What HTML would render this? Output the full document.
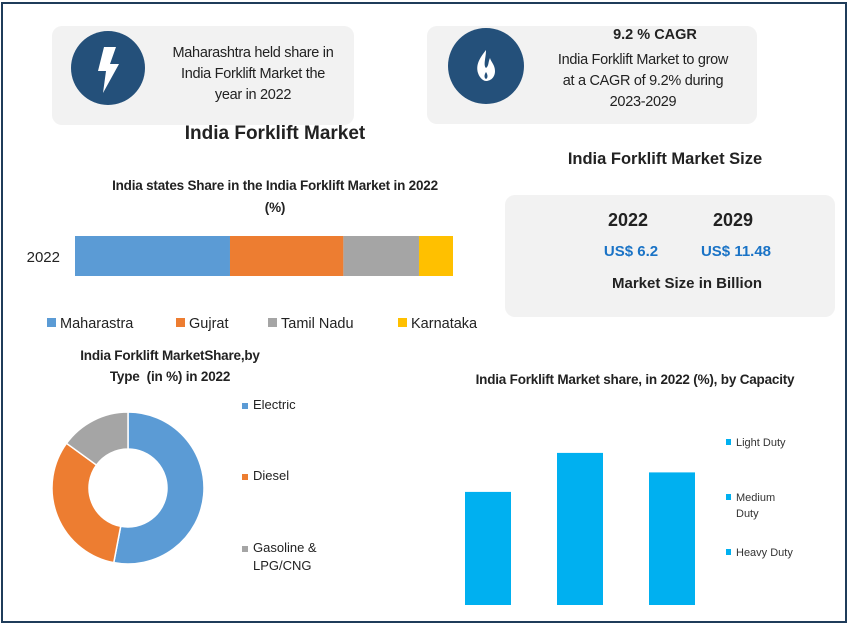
<!DOCTYPE html>
<html><head><meta charset="utf-8"><style>
body{margin:0;width:849px;height:627px;background:#fff;font-family:"Liberation Sans",sans-serif;position:relative;overflow:hidden}
.abs{position:absolute}
.card{background:#f2f2f2;border-radius:10px;position:absolute}
.t{position:absolute;text-align:center;color:#222}
</style></head><body>
<div class="abs" style="left:1px;top:2px;width:842px;height:617px;border:2px solid #1f3c5a"></div>

<div class="card" style="left:52px;top:26px;width:302px;height:99px"></div>
<svg class="abs" style="left:70px;top:30px" width="76" height="76"><circle cx="38" cy="38" r="37" fill="#24507a"/><path d="M34 17 L46 17 L40 34 L49 34 L33 63 L36 41 L28 41 Z" fill="#fff"/></svg>
<div class="t" style="left:153px;top:43px;width:200px;font-size:14.5px;line-height:21px;letter-spacing:-0.3px">Maharashtra held share in<br>India Forklift Market the<br>year in 2022</div>

<div class="card" style="left:427px;top:26px;width:330px;height:98px"></div>
<svg class="abs" style="left:448px;top:28px" width="77" height="77"><circle cx="38" cy="38" r="38" fill="#24507a"/><path d="M38 22 C30 32 28 38 30 45 C32 51 36 53 38 53 C42 53 47 50 47 43 C47 37 43 34 42 30 C40 34 41 38 38 40 C35 37 38 30 38 22 Z" fill="#fff"/><path d="M38 44 C36 47 36 50 38 51 C40 50 40 47 38 44Z" fill="#24507a"/></svg>
<div class="t" style="left:590px;top:27px;width:130px;font-size:14.5px;font-weight:bold">9.2 % CAGR</div>
<div class="t" style="left:533px;top:50px;width:220px;font-size:14.5px;line-height:21px;letter-spacing:-0.3px">India Forklift Market to grow<br>at a CAGR of 9.2% during<br>2023-2029</div>

<div class="t" style="left:120px;top:123px;width:310px;font-size:19px;font-weight:bold">India Forklift Market</div>
<div class="t" style="left:520px;top:150px;width:290px;font-size:16.5px;font-weight:bold">India Forklift Market Size</div>

<div class="card" style="left:505px;top:195px;width:330px;height:122px"></div>
<div class="t" style="left:588px;top:210px;width:80px;font-size:18px;font-weight:bold">2022</div>
<div class="t" style="left:693px;top:210px;width:80px;font-size:18px;font-weight:bold">2029</div>
<div class="t" style="left:585px;top:243px;width:92px;font-size:15px;font-weight:bold;color:#1a73c6">US$ 6.2</div>
<div class="t" style="left:690px;top:243px;width:92px;font-size:15px;font-weight:bold;color:#1a73c6">US$ 11.48</div>
<div class="t" style="left:572px;top:275px;width:230px;font-size:15px;font-weight:bold">Market Size in Billion</div>

<div class="t" style="left:60px;top:175px;width:430px;font-size:13.5px;font-weight:bold;line-height:22px;letter-spacing:-0.2px">India states Share in the India Forklift Market in 2022<br>(%)</div>
<svg class="abs" id="stack" style="left:0;top:225px" width="500" height="110"></svg>

<div class="t" style="left:50px;top:345px;width:240px;font-size:13.5px;font-weight:bold;line-height:21px;letter-spacing:-0.2px">India Forklift MarketShare,by<br>Type&nbsp; (in %) in 2022</div>
<svg class="abs" id="donut" style="left:0;top:400px" width="400" height="190"></svg>

<div class="t" style="left:440px;top:372px;width:390px;font-size:13.5px;font-weight:bold;letter-spacing:-0.2px">India Forklift Market share, in 2022 (%), by Capacity</div>
<svg class="abs" id="bars" style="left:440px;top:420px" width="400" height="195"></svg>

<script>
const ns="http://www.w3.org/2000/svg";
function mk(p,tag,a){const e=document.createElementNS(ns,tag);for(const k in a)e.setAttribute(k,a[k]);p.appendChild(e);return e;}

const states=["Maharastra","Gujrat","Tamil Nadu","Karnataka"];
const stateShares=[41,30,20,9];
const stateColors=["#5b9bd5","#ed7d31","#a5a5a5","#ffc000"];
const types=["Electric","Diesel","Gasoline &\nLPG/CNG"];
const typeShares=[53,32,15];
const typeColors=["#5b9bd5","#ed7d31","#a5a5a5"];
const capacities=["Light Duty","Medium Duty","Heavy Duty"];
const capacityShares=[29,39,34];

(function(){
const s=document.getElementById('stack');
const x0=75,w=378,total=stateShares.reduce((a,b)=>a+b,0);
const t=mk(s,'text',{x:60,y:37,'font-size':15,'text-anchor':'end',fill:'#222'});t.textContent='2022';


let acc=0;
stateShares.forEach((v,i)=>{
 const r=mk(s,'rect',{x:x0+acc/total*w,y:11,width:v/total*w,height:40,fill:stateColors[i]});
 
 
 acc+=v;
});
const lx=[47,176,268,398];
states.forEach((n,i)=>{
 const g=mk(s,'g',{});
 
 
 mk(g,'rect',{x:lx[i],y:93,width:9,height:9,fill:stateColors[i]});
 const tt=mk(g,'text',{x:lx[i]+13,y:103,'font-size':14.5,fill:'#222'});tt.textContent=n;
});
})();

(function(){
const s=document.getElementById('donut');
const cx=128,cy=88,R=76,r=39,total=typeShares.reduce((a,b)=>a+b,0);
let a0=0;
typeShares.forEach((v,i)=>{
 const a1=a0+v/total*2*Math.PI;
 const p=(a,rad)=>[cx+rad*Math.sin(a),cy-rad*Math.cos(a)];
 const [x1,y1]=p(a0,R),[x2,y2]=p(a1,R),[x3,y3]=p(a1,r),[x4,y4]=p(a0,r);
 const lg=(a1-a0)>Math.PI?1:0;
 const path=mk(s,'path',{d:`M${x1} ${y1} A${R} ${R} 0 ${lg} 1 ${x2} ${y2} L${x3} ${y3} A${r} ${r} 0 ${lg} 0 ${x4} ${y4}Z`,fill:typeColors[i],stroke:'#fff','stroke-width':1.5});
 
 
 a0=a1;
});
const ly=[8,79,151];
types.forEach((n,i)=>{
 const g=mk(s,'g',{});
 
 
 mk(g,'rect',{x:242,y:ly[i]-5,width:6,height:6,fill:typeColors[i]});
 n.split('\n').forEach((ln,j)=>{const t=mk(g,'text',{x:253,y:ly[i]+j*18+1,'font-size':13,fill:'#222'});t.textContent=ln;});
});
})();

(function(){
const s=document.getElementById('bars');
const base=185,k=3.9,bx=[25,117,209],bw=46;
capacityShares.forEach((v,i)=>{
 const b=mk(s,'rect',{x:bx[i],y:base-v*k,width:bw,height:v*k,fill:'#00b0f0'});
 
 
});
const items=[["Light Duty"],["Medium","Duty"],["Heavy Duty"]];
const ly=[25,80,135];
items.forEach((ls,i)=>{
 const g=mk(s,'g',{});
 
 
 mk(g,'rect',{x:286,y:ly[i]-6,width:5,height:6,fill:'#00b0f0'});
 ls.forEach((ln,j)=>{const t=mk(g,'text',{x:296,y:ly[i]+j*16+1,'font-size':11,fill:'#333'});t.textContent=ln;});
});
})();
</script>
</body></html>
